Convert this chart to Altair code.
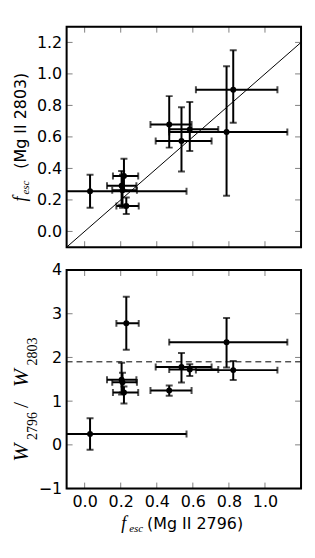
import altair as alt
import pandas as pd

# ---- data ----
x_val = [0.030, 0.218, 0.205, 0.210, 0.231, 0.469, 0.537, 0.583, 0.787, 0.824]
x_lo  = [-0.200, 0.157, 0.124, 0.153, 0.176, 0.365, 0.394, 0.469, 0.469, 0.617]
x_hi  = [0.565, 0.297, 0.287, 0.290, 0.300, 0.593, 0.704, 0.741, 1.124, 1.069]

f2803    = [0.255, 0.352, 0.290, 0.262, 0.162, 0.679, 0.574, 0.648, 0.631, 0.899]
f2803_lo = [0.150, 0.260, 0.170, 0.150, 0.110, 0.532, 0.380, 0.511, 0.226, 0.690]
f2803_hi = [0.360, 0.462, 0.384, 0.360, 0.215, 0.859, 0.789, 0.821, 1.049, 1.150]

ratio    = [0.247, 1.200, 1.490, 1.430, 2.780, 1.245, 1.780, 1.725, 2.350, 1.710]
ratio_lo = [-0.110, 0.945, 1.150, 1.200, 2.175, 1.125, 1.425, 1.575, 1.770, 1.485]
ratio_hi = [0.607, 1.335, 1.880, 1.650, 3.390, 1.360, 2.100, 1.845, 2.900, 1.920]

x_ticks = [0.0, 0.2, 0.4, 0.6, 0.8, 1.0]
top_y_ticks = [0.0, 0.2, 0.4, 0.6, 0.8, 1.0, 1.2]
bot_y_ticks = [-1, 0, 1, 2, 3, 4]
one_to_one = [-0.1, 1.2]
ratio_line = [1.9]

X_DOMAIN = [-0.1, 1.2]
W = 236
TICK_FONT = "DejaVu Sans"
SERIF = "Liberation Serif"


def text(s, x, y, size, font, style="normal", angle=0):
    return alt.Chart(alt.Data(values=[{}])).mark_text(
        text=s, font=font, fontSize=size, fontStyle=style, angle=angle,
        align="left", baseline="alphabetic", color="black"
    ).encode(x=alt.value(x), y=alt.value(y))


def frame(H):
    return alt.Chart(alt.Data(values=[{}])).mark_rect(
        fillOpacity=0, stroke="black", strokeWidth=2
    ).encode(x=alt.value(0), x2=alt.value(W), y=alt.value(0), y2=alt.value(H))


def panel(y, ylo, yhi, ydomain, yticks, yfmt, H, show_x_labels, extra):
    df = pd.DataFrame({"x": x_val, "xlo": x_lo, "xhi": x_hi,
                       "y": y, "ylo": ylo, "yhi": yhi})
    xs = alt.Scale(domain=X_DOMAIN, nice=False, zero=False)
    ys = alt.Scale(domain=ydomain, nice=False, zero=False)
    xaxis = alt.Axis(values=x_ticks, format=".1f", ticks=False, domain=False,
                     grid=False, labels=show_x_labels, title=None,
                     labelFontSize=16, labelFont=TICK_FONT, labelColor="black",
                     labelPadding=5)
    yaxis = alt.Axis(values=yticks, format=yfmt, ticks=False, domain=False,
                     grid=False, title=None, labelFontSize=16,
                     labelFont=TICK_FONT, labelColor="black", labelPadding=5)
    base = alt.Chart(df)
    X = lambda f: alt.X(f, type="quantitative", scale=xs, axis=xaxis)
    Y = lambda f: alt.Y(f, type="quantitative", scale=ys, axis=yaxis)

    xerr = base.mark_rule(color="black", strokeWidth=2, clip=True).encode(
        x=X("xlo"), x2="xhi", y=Y("y"))
    yerr = base.mark_rule(color="black", strokeWidth=2, clip=True).encode(
        x=X("x"), y=Y("ylo"), y2="yhi")
    cap = dict(color="black", size=7, thickness=2, clip=True)
    xcap_l = base.mark_tick(orient="vertical", **cap).encode(x=X("xlo"), y=Y("y"))
    xcap_r = base.mark_tick(orient="vertical", **cap).encode(x=X("xhi"), y=Y("y"))
    ycap_l = base.mark_tick(orient="horizontal", **cap).encode(x=X("x"), y=Y("ylo"))
    ycap_h = base.mark_tick(orient="horizontal", **cap).encode(x=X("x"), y=Y("yhi"))
    pts = base.mark_circle(color="black", opacity=1, size=36).encode(
        x=X("x"), y=Y("y"))

    xt = alt.Chart(pd.DataFrame({"t": x_ticks}))
    yt = alt.Chart(pd.DataFrame({"t": yticks}))
    tk = dict(color="#808080", strokeWidth=1)
    xt_b = xt.mark_rule(**tk).encode(x=X("t"), y=alt.value(H), y2=alt.value(H - 6))
    xt_t = xt.mark_rule(**tk).encode(x=X("t"), y=alt.value(0), y2=alt.value(6))
    yt_l = yt.mark_rule(**tk).encode(y=Y("t"), x=alt.value(0), x2=alt.value(6))
    yt_r = yt.mark_rule(**tk).encode(y=Y("t"), x=alt.value(W), x2=alt.value(W - 6))

    layers = [l(X, Y) for l in extra] + [xt_b, xt_t, yt_l, yt_r,
                                         xerr, yerr, xcap_l, xcap_r, ycap_l, ycap_h,
                                         pts, frame(H)]
    return layers


# top panel
def diag(X, Y):
    return alt.Chart(pd.DataFrame({"a": one_to_one, "b": one_to_one})).mark_line(
        color="black", strokeWidth=1, clip=True).encode(x=X("a"), y=Y("b"))


H1 = 222
top_layers = panel(f2803, f2803_lo, f2803_hi, [-0.1, 1.3], top_y_ticks, ".1f",
                   H1, False, [diag])
top_title = [
    text("f", -40.5, 176, 18, SERIF, "italic", 270),
    text("esc", -37.5, 169, 11, SERIF, "italic", 270),
    text("(Mg II 2803)", -40.5, 143, 16, TICK_FONT, "normal", 270),
]
top = alt.layer(*top_layers, *top_title).properties(width=W, height=H1)


# bottom panel
def dashed(X, Y):
    return alt.Chart(pd.DataFrame({"r": ratio_line})).mark_rule(
        color="black", strokeWidth=1, strokeDash=[6, 4]).encode(y=Y("r"))


H2 = 220
bot_layers = panel(ratio, ratio_lo, ratio_hi, [-1, 4], bot_y_ticks, "d",
                   H2, True, [dashed])
bot_title = [
    text("W", -39, 193, 22, SERIF, "italic", 270),
    text("2796", -30, 171, 14, SERIF, "normal", 270),
    text("/", -39, 139, 22, SERIF, "normal", 270),
    text("W", -39, 118, 22, SERIF, "italic", 270),
    text("2803", -30, 96, 14, SERIF, "normal", 270),
    text("f", 55, 261, 18, SERIF, "italic"),
    text("esc", 63, 263.5, 11, SERIF, "italic"),
    text("(Mg II 2796)", 81, 261, 16, TICK_FONT),
]
bot = alt.layer(*bot_layers, *bot_title).properties(width=W, height=H2)

chart = alt.vconcat(top, bot, spacing=23, bounds="flush").configure_view(
    stroke="transparent"
).configure(padding={"left": 1, "top": 15, "right": 4, "bottom": 5})

chart.save("out.html", embed_options={"renderer": "svg", "actions": False})
